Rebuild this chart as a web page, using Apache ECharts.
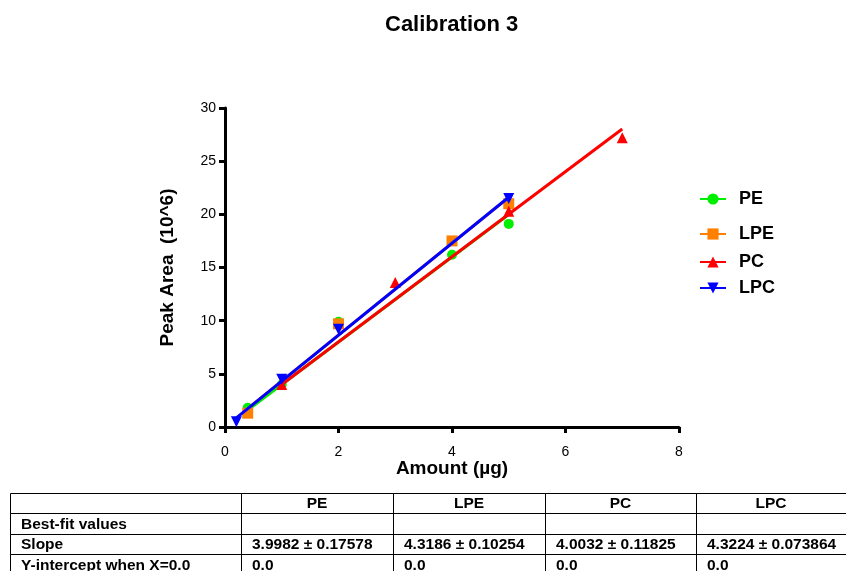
<!DOCTYPE html>
<html><head><meta charset="utf-8">
<script src="https://cdn.jsdelivr.net/npm/echarts@6/dist/echarts.min.js"></script>
<style>html,body{margin:0;padding:0;background:#fff}#c{width:846px;height:571px}</style>
</head><body><div id="c"></div>
<script>
// ---- data ----
const seriesNames = ['PE', 'LPE', 'PC', 'LPC'];
const pePoints  = [[0.4, 1.8], [1, 4.0], [2, 9.9], [4, 16.2], [5, 19.1]];
const lpePoints = [[0.4, 1.3], [2, 9.7], [4, 17.5], [5, 21.0]];
const pcPoints  = [[1, 4.0], [3, 13.6], [5, 20.3], [7, 27.2]];
const lpcPoints = [[0.2, 0.5], [1, 4.5], [2, 9.2], [5, 21.5]];
// best-fit line endpoints (line through origin)
const peFit  = [[0.4, 1.60], [5, 19.99]];
const lpeFit = [[0.4, 1.73], [5, 21.59]];
const pcFit  = [[1, 4.00], [7, 28.02]];
const lpcFit = [[0.2, 0.86], [5, 21.61]];
const xTicks = [0, 2, 4, 6, 8];
const yTicks = [0, 5, 10, 15, 20, 25, 30];
const tableHeader = ['', 'PE', 'LPE', 'PC', 'LPC'];
const tableRows = [
  ['Best-fit values', '', '', '', ''],
  ['Slope', '3.9982 \u00B1 0.17578', '4.3186 \u00B1 0.10254', '4.0032 \u00B1 0.11825', '4.3224 \u00B1 0.073864'],
  ['Y-intercept when X=0.0', '0.0', '0.0', '0.0', '0.0']
];

// ---- styles ----
const FONT = 'Liberation Sans, Arial, sans-serif';
const colors = ['#00ee00', '#ff8000', '#ff0000', '#0000ff'];
const symbols = ['circle', 'rect', 'triangle', 'triangle'];
const rotates = [0, 0, 0, 180];
const pts = [pePoints, lpePoints, pcPoints, lpcPoints];
const fits = [peFit, lpeFit, pcFit, lpcFit];
const drawOrder = [0, 1, 2, 3];

const series = [];
drawOrder.forEach(i => {
  series.push({
    name: seriesNames[i], type: 'line', data: fits[i], showSymbol: false,
    symbol: symbols[i], symbolSize: 10, symbolRotate: rotates[i],
    lineStyle: {color: colors[i], width: 3}, itemStyle: {color: colors[i]},
    silent: true, animation: false, z: 2 + i
  });
});
drawOrder.forEach(i => {
  series.push({
    name: seriesNames[i] + ' data', type: 'scatter', data: pts[i],
    symbol: symbols[i], symbolSize: i === 0 ? 10 : 11, symbolRotate: rotates[i],
    itemStyle: {color: colors[i], opacity: 1}, animation: false, z: 2 + i
  });
});

const legendY = [185, 220, 248, 274];
const legends = seriesNames.map((n, i) => ({
  data: [n], left: 694, top: legendY[i], orient: 'vertical',
  itemWidth: 26, itemHeight: 14, selectedMode: false,
  textStyle: {fontFamily: FONT, fontWeight: 'bold', fontSize: 18, color: '#000', padding: [0,0,0,8]}
}));

// table graphics
const colX = [10, 241, 393, 545, 696, 846];
const rowY = [493, 513, 534, 554, 575];
const g = [];
const allRows = [tableHeader].concat(tableRows);
allRows.forEach((row, r) => {
  row.forEach((txt, c) => {
    g.push({type: 'rect', shape: {x: colX[c] + 0.5, y: rowY[r] + 0.5, width: colX[c+1] - colX[c], height: rowY[r+1] - rowY[r]},
      style: {fill: 'none', stroke: '#000', lineWidth: 1}, silent: true});
    if (txt !== '') {
      const center = r === 0;
      g.push({type: 'text', x: center ? (colX[c] + colX[c+1]) / 2 : colX[c] + 11, y: (rowY[r] + rowY[r+1]) / 2 + 1,
        style: {text: txt, fill: '#000', font: 'bold 15.5px ' + FONT,
          textAlign: center ? 'center' : 'left', textVerticalAlign: 'middle'}, silent: true});
    }
  });
});

const chart = echarts.init(document.getElementById('c'), null, {renderer: 'canvas'});
chart.setOption({
  backgroundColor: '#fff',
  animation: false,
  title: {text: 'Calibration 3', left: 380, top: 9,
    textStyle: {fontFamily: FONT, fontWeight: 'bold', fontSize: 22, color: '#000'}},
  legend: legends,
  grid: {left: 225, right: 167, top: 108, bottom: 144, containLabel: false},
  xAxis: {type: 'value', min: xTicks[0], max: xTicks[xTicks.length - 1], interval: 2,
    name: 'Amount (\u00B5g)', nameLocation: 'middle', nameGap: 32, nameMoveOverlap: false,
    nameTextStyle: {fontFamily: FONT, fontWeight: 'bold', fontSize: 19, color: '#000'},
    axisLine: {show: true, lineStyle: {color: '#000', width: 3}},
    axisTick: {show: true, length: 6, lineStyle: {color: '#000', width: 3}},
    axisLabel: {fontFamily: FONT, fontSize: 14, color: '#000', margin: 18},
    splitLine: {show: false}},
  yAxis: {type: 'value', min: yTicks[0], max: yTicks[yTicks.length - 1], interval: 5,
    name: 'Peak Area  (10^6)', nameLocation: 'middle', nameGap: 48, nameMoveOverlap: false,
    nameTextStyle: {fontFamily: FONT, fontWeight: 'bold', fontSize: 19, color: '#000'},
    axisLine: {show: true, lineStyle: {color: '#000', width: 3}},
    axisTick: {show: true, length: 6, lineStyle: {color: '#000', width: 3}},
    axisLabel: {fontFamily: FONT, fontSize: 14, color: '#000', margin: 9},
    splitLine: {show: false}},
  series: series,
  graphic: g
});
</script></body></html>
